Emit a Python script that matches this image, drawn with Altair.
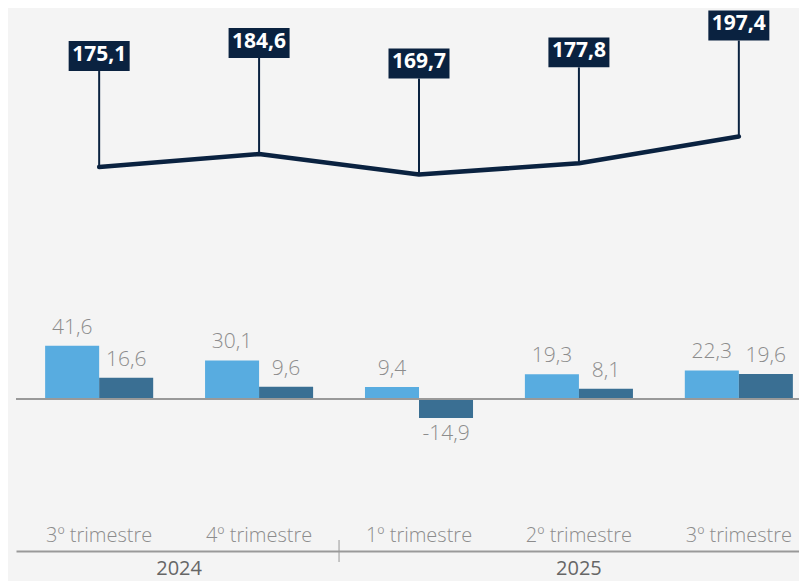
import altair as alt
import pandas as pd

# ---- data ----
quarters = ["3º trimestre", "4º trimestre", "1º trimestre", "2º trimestre", "3º trimestre"]
years = ["2024", "2024", "2025", "2025", "2025"]
line_values = [175.1, 184.6, 169.7, 177.8, 197.4]
series_a = [41.6, 30.1, 9.4, 19.3, 22.3]
series_b = [16.6, 9.6, -14.9, 8.1, 19.6]
series_names = ["Serie A", "Serie B"]
year_labels = ["2024", "2025"]

# ---- style ----
NAVY = "#0a2240"
LIGHT = "#58ace0"
DARK = "#3a6f93"
GRAY = "#8c8c8c"
AXIS_GRAY = "#999999"
BG = "#f4f4f4"
FONT = "Open Sans"
W, H = 783, 543


def fmt(v):
    return f"{v:.1f}".replace(".", ",")


keys = [f"{q}|{y}" for q, y in zip(quarters, years)]
line_df = pd.DataFrame({"key": keys, "value": line_values,
                        "label": [fmt(v) for v in line_values]})
bar_df = pd.DataFrame({
    "key": keys * 2,
    "serie": [series_names[0]] * len(keys) + [series_names[1]] * len(keys),
    "value": series_a + series_b,
    "label": [fmt(v) for v in series_a + series_b],
})
idx = {}
for i, y in enumerate(years):
    idx.setdefault(y, []).append(i)
year_df = pd.DataFrame({
    "year": year_labels,
    "mid": [(min(idx[y]) + max(idx[y]) + 1) / 2 for y in year_labels],
    "start": [min(idx[y]) for y in year_labels],
})

n = len(keys)
x_scale = alt.Scale(type="band", domain=keys, range=[0, 806], paddingInner=0, paddingOuter=0.02)
xq_scale = alt.Scale(domain=[-0.02, n + 0.02], range=[0, 806], nice=False, zero=False)
bar_y = alt.Scale(domain=[-118.75, 305.5], nice=False, zero=False)
line_y = alt.Scale(domain=[-105.2, 291.2], nice=False, zero=False)
off_scale = alt.Scale(domain=series_names, paddingInner=0, paddingOuter=0.48)

x_plain = alt.X("key:N", scale=x_scale, sort=keys, axis=None)

bars = alt.Chart(bar_df).mark_bar().encode(
    x=alt.X("key:N", scale=x_scale, sort=keys, title=None,
            axis=alt.Axis(labelExpr="split(datum.label, '|')[0]", domain=True,
                          domainColor=AXIS_GRAY, domainWidth=2, ticks=False, tickSize=0,
                          labelPadding=-16, labelBaseline="middle", labelAngle=0,
                          labelFont=FONT, labelFontSize=20, labelFontWeight=300,
                          labelColor=GRAY, grid=False, labelOverlap=False)),
    xOffset=alt.XOffset("serie:N", scale=off_scale),
    y=alt.Y("value:Q", scale=bar_y, axis=None),
    color=alt.Color("serie:N", scale=alt.Scale(domain=series_names, range=[LIGHT, DARK]), legend=None),
)

zero = alt.Chart(pd.DataFrame({"z": [0]})).mark_rule(color=AXIS_GRAY, strokeWidth=2).encode(
    y=alt.Y("z:Q", scale=bar_y, axis=None), x=alt.value(0), x2=alt.value(W + 20))

bar_text_pos = alt.Chart(bar_df).transform_filter("datum.value >= 0").mark_text(
    font=FONT, fontSize=21, fontWeight=300, color=GRAY, baseline="alphabetic", dy=-12
).encode(x=x_plain, xOffset=alt.XOffset("serie:N", scale=off_scale),
         y=alt.Y("value:Q", scale=bar_y, axis=None), text="label:N")

bar_text_neg = alt.Chart(bar_df).transform_filter("datum.value < 0").mark_text(
    font=FONT, fontSize=21, fontWeight=300, color=GRAY, baseline="top", dy=5
).encode(x=x_plain, xOffset=alt.XOffset("serie:N", scale=off_scale),
         y=alt.Y("value:Q", scale=bar_y, axis=None), text="label:N")

year_text = alt.Chart(year_df).mark_text(
    font=FONT, fontSize=20, color="#666666", baseline="middle"
).encode(x=alt.X("mid:Q", scale=xq_scale, axis=None), y=alt.value(561), text="year:N")

sep = alt.Chart(year_df).transform_filter("datum.start > 0").mark_rule(
    color=AXIS_GRAY, strokeWidth=1
).encode(x=alt.X("start:Q", scale=xq_scale, axis=None), y=alt.value(532), y2=alt.value(554))

line = alt.Chart(line_df).mark_line(color=NAVY, strokeWidth=4.5, strokeCap="round",
                                    strokeJoin="round").encode(
    x=x_plain, y=alt.Y("value:Q", scale=line_y, axis=None))

stems = alt.Chart(line_df).mark_rule(color=NAVY, strokeWidth=2, y2Offset=-96).encode(
    x=x_plain, y=alt.Y("value:Q", scale=line_y, axis=None), y2="value:Q")

boxes = alt.Chart(line_df).mark_point(
    shape="M-1,-0.49H1V0.49H-1Z", size=3721, filled=True, fill=NAVY, opacity=1,
    strokeWidth=0, yOffset=-111
).encode(x=x_plain, y=alt.Y("value:Q", scale=line_y, axis=None))

box_text = alt.Chart(line_df).mark_text(
    font=FONT, fontSize=21, fontWeight="bold", color="white", baseline="middle", dy=-112
).encode(x=x_plain, y=alt.Y("value:Q", scale=line_y, axis=None), text="label:N")

chart = alt.layer(
    bars, zero, bar_text_pos, bar_text_neg, year_text, sep, line, stems, boxes, box_text
).resolve_scale(x="independent", y="independent").properties(
    width=W, height=H,
    padding={"left": 8, "top": 0, "right": 0, "bottom": 30},
    autosize=alt.AutoSizeParams(type="none"),
    background=BG,
).configure_view(stroke=None)

chart.save("out.html", embed_options={"renderer": "svg", "actions": False})
